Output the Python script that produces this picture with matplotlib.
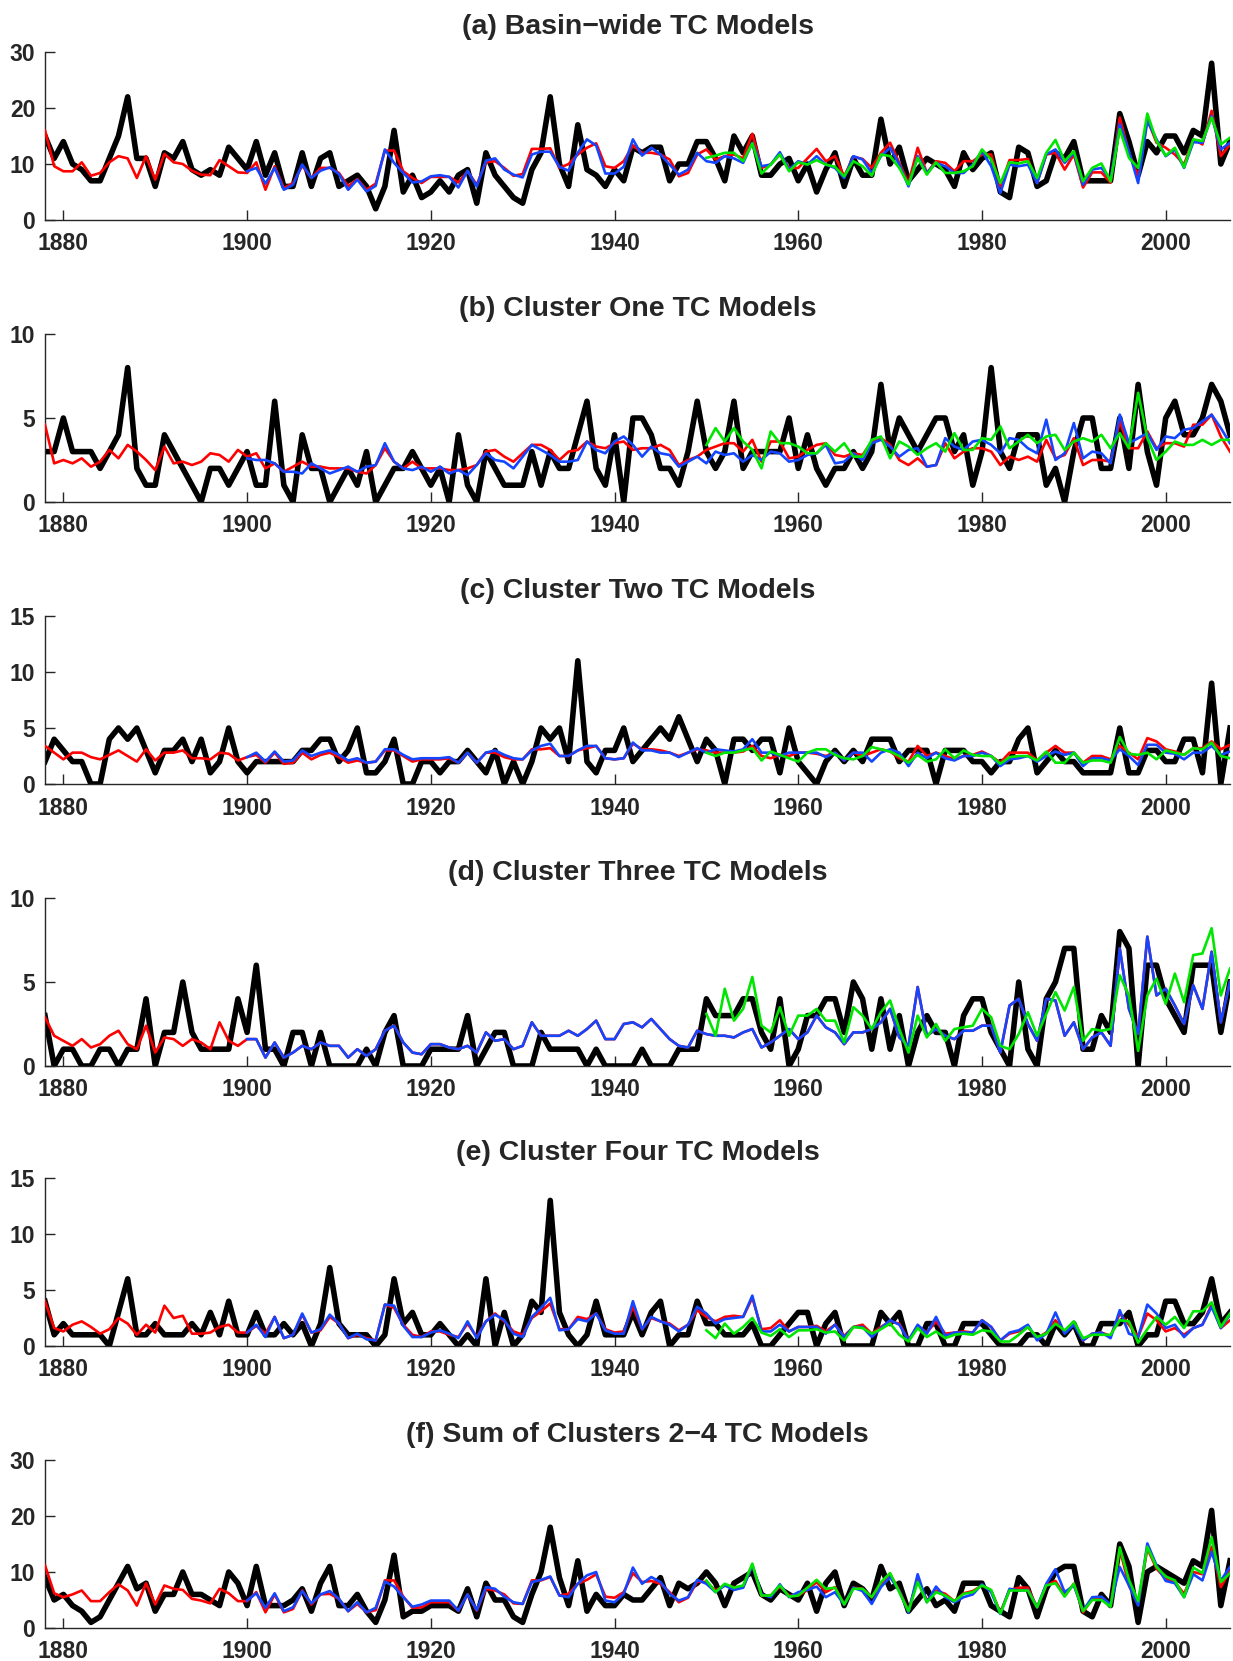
import numpy as np
import matplotlib
matplotlib.use("Agg")
import matplotlib.pyplot as plt

plt.rcParams['font.family'] = ['Liberation Sans', 'DejaVu Sans']
plt.rcParams['font.weight'] = 'bold'

years = np.arange(1878, 2008)
years_blue = np.arange(1900, 2008)
years_green = np.arange(1950, 2008)

# (a) basin-wide
a_obs = [15, 11, 14, 10, 9, 7, 7, 11, 15, 22,
         11, 11, 6, 12, 11, 14, 9, 8, 9, 8,
         13, 11, 9, 14, 8, 12, 6, 6, 12, 6,
         11, 12, 6, 7, 8, 6, 2, 6, 16, 5,
         8, 4, 5, 7, 5, 8, 9, 3, 12, 8,
         6, 4, 3, 9, 12, 22, 10, 6, 17, 9,
         8, 6, 9, 7, 13, 12, 13, 13, 7, 10,
         10, 14, 14, 11, 7, 15, 12, 15, 8, 8,
         10, 11, 7, 10, 5, 9, 12, 6, 11, 8,
         8, 18, 10, 13, 7, 9, 11, 10, 9, 6,
         12, 9, 11, 12, 5, 4, 13, 12, 6, 7,
         12, 11, 14, 7, 7, 7, 7, 19, 14, 8,
         14, 12, 15, 15, 12, 16, 15, 28, 10, 14]
a_red = [16, 9.6, 8.7, 8.7, 10.3, 7.9, 8.4, 10.3, 11.4, 11,
         7.5, 11.4, 7.2, 11.8, 10.3, 10, 8.8, 8.1, 8, 10.7,
         9.6, 8.5, 8.4, 10.3, 5.4, 9.6, 5.7, 6.6, 9.7, 7.5,
         9.3, 9.3, 8.4, 6, 7.3, 5.4, 6.5, 12.4, 12.4, 8.7,
         7.5, 6.6, 7.7, 7.7, 7.7, 6.7, 8.7, 6.3, 10.3, 10.5,
         9.3, 7.9, 8.2, 12.7, 12.7, 12.8, 9.3, 10, 11.7, 12.9,
         13.7, 9.6, 9.3, 10.5, 13.3, 12, 12, 11.7, 10.8, 7.8,
         8.4, 11.7, 12.6, 10.8, 11.4, 11.7, 11, 15.4, 9.3, 9.9,
         11.7, 9.3, 9.3, 11, 12.7, 10.5, 11.4, 7.8, 11.3, 10.9,
         9.3, 12, 13.8, 10.2, 6.6, 12.9, 8.4, 10.5, 10.2, 8.7,
         10.5, 10.5, 11.7, 11.7, 6, 10.7, 10.7, 10.9, 6.6, 11.7,
         12, 9, 11.7, 5.8, 8.5, 8.5, 6.7, 18.3, 12, 7.8,
         18, 13.8, 12.9, 11.7, 9.9, 14.4, 13.5, 19.5, 11.4, 13.5]
a_blue = [8.7, 9.3, 6.5, 9.3, 5.4, 6.3, 9.9, 7.5, 8.8, 9.4,
          8.2, 5.4, 7.2, 5.1, 6.1, 12.6, 10.2, 8.4, 6.7, 6.9,
          7.8, 8, 7.7, 5.8, 8.8, 6, 10.6, 11, 9, 8.1,
          7.6, 11.7, 12.2, 12.2, 9.5, 8.8, 12, 14.4, 13.3, 8.3,
          8.3, 9.5, 14.4, 11.5, 12.9, 11.7, 9.9, 8.1, 9, 12,
          10.5, 10.2, 11.4, 11, 10.2, 13.8, 9.6, 9.9, 12.1, 9,
          10.5, 9.9, 11.4, 9.9, 9.3, 7.5, 11.4, 10.8, 8.4, 11.4,
          12.9, 9.9, 6, 11.4, 8.4, 10.2, 9.6, 8.4, 8.4, 9.9,
          12.3, 9.6, 4.8, 9.9, 9.6, 9.9, 6.6, 11.7, 12.6, 10.2,
          12, 6.3, 9, 9.3, 7.2, 17.1, 12.3, 6.6, 17.7, 14.4,
          11.4, 12.6, 9.3, 13.9, 13.8, 18.6, 12.6, 13.8]
a_green = [11.1, 11.5, 12, 12, 10.5, 13.7, 8.3, 9.9, 11.7, 8.7,
           10.3, 9.9, 10.7, 9.9, 9.5, 7.8, 10.5, 9.6, 7.9, 11.7,
           11.4, 9.3, 6.3, 11.1, 8.1, 10.3, 8.4, 8.4, 8.7, 9.6,
           12.6, 10.8, 6.6, 10.3, 10.1, 10.5, 7.5, 12, 14.3, 10.5,
           12.3, 6.9, 9.3, 10.1, 6.9, 16.2, 11.1, 9.3, 19, 14.1,
           11.5, 12.9, 9.4, 14.4, 14.1, 18.3, 13.5, 14.7]

# (b) cluster one
b_obs = [3, 3, 5, 3, 3, 3, 2, 3, 4, 8,
         2, 1, 1, 4, 3, 2, 1, 0, 2, 2,
         1, 2, 3, 1, 1, 6, 1, 0, 4, 2,
         2, 0, 1, 2, 1, 3, 0, 1, 2, 2,
         3, 2, 1, 2, 0, 4, 1, 0, 3, 2,
         1, 1, 1, 3, 1, 3, 2, 2, 4, 6,
         2, 1, 4, 0, 5, 5, 4, 2, 2, 1,
         3, 6, 3, 2, 3, 6, 2, 3, 3, 3,
         3, 5, 2, 4, 2, 1, 2, 2, 3, 2,
         3, 7, 3, 5, 4, 3, 4, 5, 5, 3,
         4, 1, 3, 8, 3, 2, 4, 4, 4, 1,
         2, 0, 3, 5, 5, 2, 2, 5, 2, 7,
         3, 1, 5, 6, 4, 4, 5, 7, 6, 4]
b_red = [4.6, 2.3, 2.5, 2.3, 2.6, 2.1, 2.4, 3.1, 2.6, 3.4,
         3, 2.5, 1.9, 3.3, 2.3, 2.4, 2.2, 2.4, 2.9, 2.8,
         2.4, 3.1, 2.7, 2.9, 2, 2.3, 1.8, 2.1, 2.4, 2.1,
         2.1, 2, 2, 2, 1.8, 1.7, 2.2, 3.2, 2.4, 2,
         2.4, 2, 2, 2, 1.9, 1.9, 2, 2.2, 3, 3.1,
         2.7, 2.4, 2.9, 3.4, 3.4, 3.1, 2.5, 3, 3.1, 3.6,
         3.3, 3.2, 3.5, 3.6, 3.1, 3.2, 3.2, 3.4, 3.1, 2.2,
         2.5, 2.7, 3.1, 3.3, 3.5, 3.5, 3, 3.7, 2.4, 3.6,
         3.6, 2.6, 2.7, 3.1, 3.4, 3.5, 2.8, 2.7, 2.9, 2.8,
         3.6, 3.8, 3.4, 2.5, 2.2, 2.6, 2.1, 2.2, 3.5, 2.6,
         3, 3.2, 3.2, 3, 2.2, 2.7, 2.5, 2.7, 2.4, 3.7,
         2.6, 2.8, 3.8, 2.2, 2.5, 2.5, 2.4, 4.8, 3.2, 3.2,
         4.2, 3.2, 3.5, 3.5, 3.3, 4.6, 4.6, 5.2, 3.9, 3]
b_blue = [2.6, 2.5, 2.5, 2.3, 1.8, 1.8, 1.7, 2.3, 2, 1.7,
          1.9, 2.1, 1.8, 2.1, 2.2, 3.5, 2.4, 2, 1.9, 2.1,
          1.8, 2.1, 1.7, 1.9, 1.6, 2.2, 2.9, 2.5, 2.4, 2,
          2.7, 3.4, 3.1, 2.8, 2.4, 2.4, 2.5, 3.6, 3.1, 2.9,
          3.6, 3.9, 3.4, 2.7, 3.3, 2.9, 2.8, 2.1, 2.4, 2.7,
          2.3, 3, 2.8, 2.9, 2.4, 2.8, 2.5, 3, 2.9, 2.4,
          2.5, 2.8, 2.9, 3.4, 2.3, 2.4, 2.9, 2.5, 3.5, 3.7,
          3.3, 2.7, 3.1, 3.2, 2.1, 2.2, 3.8, 3.3, 3.1, 3.6,
          3.7, 3.4, 2.9, 3.8, 3.7, 3.2, 2.9, 4.9, 2.5, 2.9,
          4.7, 2.6, 3, 2.9, 2.3, 5.2, 3.5, 3.8, 4.1, 3.1,
          3.9, 3.8, 4.3, 4.4, 4.8, 5.2, 4.4, 3.5]
b_green = [3.4, 4.4, 3.6, 4.4, 3.6, 3.1, 2, 4.2, 3.5, 3.5,
           3.3, 2.9, 2.9, 3.5, 3, 3.5, 2.7, 2.7, 3.7, 3.9,
           2.6, 3.6, 3.3, 2.8, 3.2, 3.5, 3, 4.1, 3.1, 3.1,
           3.8, 3.7, 4.5, 3.2, 3.6, 4, 3.5, 3.9, 4, 3.1,
           3.6, 3.8, 3.6, 4, 3.2, 4.1, 3.2, 6.5, 3.8, 2.5,
           3, 3.6, 3.4, 3.4, 3.7, 3.4, 3.7, 3.7]

# (c) cluster two
c_obs = [2, 4, 3, 2, 2, 0, 0, 4, 5, 4,
         5, 3, 1, 3, 3, 4, 2, 4, 1, 2,
         5, 2, 1, 2, 2, 2, 2, 2, 3, 3,
         4, 4, 2, 3, 5, 1, 1, 2, 4, 0,
         0, 2, 2, 1, 2, 2, 3, 2, 1, 3,
         0, 2, 0, 2, 5, 4, 5, 2, 11, 2,
         1, 3, 3, 5, 2, 3, 4, 5, 4, 6,
         4, 2, 4, 3, 0, 4, 4, 3, 4, 4,
         1, 5, 2, 1, 0, 2, 3, 2, 3, 2,
         4, 4, 4, 2, 3, 3, 3, 0, 3, 3,
         3, 2, 2, 1, 2, 2, 4, 5, 1, 2,
         3, 2, 2, 1, 1, 1, 1, 5, 1, 1,
         3, 3, 2, 2, 4, 4, 1, 9, 0, 5]
c_red = [3.4, 2.8, 2.2, 2.8, 2.8, 2.4, 2.2, 2.6, 3, 2.5,
         2, 3.1, 2.1, 2.8, 2.8, 3, 2.3, 2.3, 2.2, 2.8,
         2.7, 2.1, 2.4, 2.6, 1.9, 2.8, 1.8, 1.9, 2.8, 2.2,
         2.6, 2.8, 2.4, 1.9, 2.1, 1.9, 2, 3, 3, 2.5,
         2, 2.2, 2.2, 2.2, 2.3, 1.9, 2.8, 1.9, 2.8, 2.8,
         2.4, 2.2, 2.2, 3.1, 3.1, 3.2, 2.5, 2.5, 3, 3.2,
         3.4, 2.3, 2.2, 2.3, 3.6, 3.1, 3.1, 3, 2.8, 2.5,
         2.8, 3.1, 3, 2.8, 2.8, 2.8, 2.9, 3.4, 2.5, 2.3,
         2.6, 2.5, 2.8, 2.8, 2.7, 2.5, 2.8, 2.1, 2.8, 2.5,
         2.8, 3.1, 2.9, 2.3, 2, 3.4, 2.5, 2.8, 2.5, 2.2,
         2.5, 2.6, 2.9, 2.5, 1.9, 2.8, 2.8, 2.8, 2.1, 2.8,
         3.4, 2.8, 2.8, 1.9, 2.5, 2.5, 2.2, 3.4, 2.8, 2.2,
         4.1, 3.8, 3.1, 2.9, 2.6, 3.2, 3.2, 3.8, 3.1, 3.5]
c_blue = [2.4, 2.8, 2, 2.9, 2, 2.1, 3, 2.5, 2.8, 3,
          2.6, 2.1, 2.3, 1.9, 2, 3.1, 3.1, 2.6, 2.2, 2.3,
          2.3, 2.3, 2.4, 1.9, 2.8, 1.9, 2.8, 3, 2.6, 2.3,
          2.2, 3, 3.4, 3.6, 2.5, 2.5, 3, 3.4, 3.4, 2.3,
          2.2, 2.3, 3.7, 3, 3, 2.8, 2.8, 2.4, 2.8, 3.2,
          2.8, 3.1, 3, 2.9, 3.1, 4, 2.8, 2.8, 2.5, 2.8,
          2.8, 2.8, 2.8, 2.4, 2.8, 2.1, 2.8, 2.8, 2, 2.8,
          3.1, 2.8, 1.6, 2.8, 2.3, 2.8, 2.3, 2.1, 2.5, 2.5,
          2.8, 2.5, 1.6, 2.2, 2.3, 2.5, 2, 2.5, 2.9, 2.6,
          2.8, 1.6, 2.3, 2.3, 2.1, 3.1, 2.5, 1.7, 3.5, 3.5,
          2.8, 2.7, 2.2, 2.8, 2.8, 3.4, 2.6, 2.9]
c_green = [2.8, 2.5, 2.8, 2.8, 3, 3.2, 2.1, 2.9, 2.6, 2.3,
           2, 2.8, 3.1, 3.1, 2.6, 2.3, 2.2, 2.5, 3.3, 3.1,
           2.9, 2.5, 1.9, 2.6, 2, 2.2, 3.1, 2.3, 3, 2.6,
           2.5, 2.5, 1.8, 2.4, 2.5, 2.5, 2.1, 2.9, 1.9, 1.9,
           2.8, 1.9, 2.1, 2.1, 1.9, 4.2, 2.7, 2.6, 2.8, 2.2,
           3, 2.8, 2.6, 3.2, 3.1, 3.7, 2.5, 2.3]

# (d) cluster three
d_obs = [3, 0, 1, 1, 0, 0, 1, 1, 0, 1,
         1, 4, 0, 2, 2, 5, 2, 1, 1, 1,
         1, 4, 2, 6, 1, 1, 0, 2, 2, 0,
         2, 0, 0, 0, 0, 1, 0, 2, 3, 0,
         0, 0, 1, 1, 1, 1, 3, 0, 1, 2,
         2, 0, 0, 0, 2, 1, 1, 1, 1, 0,
         1, 0, 0, 0, 0, 1, 0, 0, 0, 1,
         1, 1, 4, 3, 3, 3, 4, 4, 2, 1,
         4, 0, 1, 3, 3, 4, 4, 2, 5, 4,
         1, 4, 1, 3, 0, 2, 3, 2, 2, 0,
         3, 4, 4, 2, 1, 0, 5, 1, 0, 4,
         5, 7, 7, 1, 1, 3, 2, 8, 7, 0,
         6, 6, 4, 3, 2, 6, 6, 6, 2, 5]
d_red = [2.9, 1.8, 1.5, 1.2, 1.6, 1.1, 1.3, 1.8, 2.1, 1.3,
         1, 2.4, 0.8, 1.7, 1.6, 1.2, 1.6, 1.4, 1, 2.6,
         1.5, 1.2, 1.6, 1.6, 0.5, 1.4, 0.5, 0.8, 1.2, 1,
         1.4, 1.2, 1.2, 0.5, 1, 0.6, 1, 2.1, 2.4, 1.4,
         0.8, 0.7, 1.3, 1.3, 1.1, 1, 1.2, 0.8, 2, 1.5,
         1.6, 1, 1.2, 2.6, 1.8, 1.8, 1.8, 2.1, 1.8, 2.2,
         2.7, 1.6, 1.6, 2.5, 2.6, 2.3, 2.8, 2.2, 1.6, 1.2,
         1.1, 2.1, 1.9, 1.8, 1.8, 1.7, 2, 2.2, 1.1, 1.4,
         1.8, 2.2, 1.6, 2, 3, 2.3, 2, 1.3, 2, 2,
         2.2, 2.6, 3.4, 1.7, 1.2, 4.7, 1.8, 2.2, 1.8, 1.6,
         2.1, 2.1, 2.4, 2.4, 0.8, 3.6, 4, 2.5, 1.5, 4,
         3.9, 1.8, 2.6, 1, 1.7, 2, 1.2, 7, 3.4, 1.9,
         7.7, 4.2, 4.6, 3.6, 2.5, 4.8, 3.4, 6.8, 2.6, 5]
d_blue = [1.6, 1.6, 0.5, 1.4, 0.5, 0.8, 1.2, 1, 1.4, 1.2,
          1.2, 0.5, 1, 0.6, 1, 2.1, 2.4, 1.4, 0.8, 0.7,
          1.3, 1.3, 1.1, 1, 1.2, 0.8, 2, 1.5, 1.6, 1,
          1.2, 2.6, 1.8, 1.8, 1.8, 2.1, 1.8, 2.2, 2.7, 1.6,
          1.6, 2.5, 2.6, 2.3, 2.8, 2.2, 1.6, 1.2, 1.1, 2.1,
          1.9, 1.8, 1.8, 1.7, 2, 2.2, 1.1, 1.4, 1.8, 2.2,
          1.6, 2, 3, 2.3, 2, 1.3, 2, 2, 2.2, 2.6,
          3.4, 1.7, 1.2, 4.7, 1.8, 2.2, 1.8, 1.6, 2.1, 2.1,
          2.4, 2.4, 0.8, 3.6, 4, 2.5, 1.5, 4, 3.9, 1.8,
          2.6, 1, 1.7, 2, 1.2, 7, 3.4, 1.9, 7.7, 4.2,
          4.6, 3.6, 2.5, 4.8, 3.4, 6.8, 2.6, 5]
d_green = [3.1, 1.8, 4.6, 2.7, 3.4, 5.3, 2.4, 2, 3.5, 1.8,
           3, 3, 3.4, 2.7, 2.7, 1.4, 3.5, 3, 2.2, 3.2,
           3.9, 2.2, 0.8, 3, 1.7, 2.5, 1.5, 2.2, 2.3, 2.4,
           3.4, 2.9, 1.2, 1, 1.9, 3.2, 1.8, 3.1, 4.4, 3.3,
           4.7, 1.5, 2.2, 2.1, 2.2, 5.4, 4.2, 0.9, 4.2, 5.2,
           3.7, 5.5, 3.8, 6.6, 6.7, 8.2, 4.2, 5.8]

# (e) cluster four
e_obs = [4, 1, 2, 1, 1, 1, 1, 0, 3, 6,
         1, 1, 2, 1, 1, 1, 2, 1, 3, 1,
         4, 1, 1, 3, 1, 1, 2, 1, 2, 0,
         2, 7, 2, 1, 1, 1, 0, 1, 6, 2,
         3, 1, 1, 2, 1, 0, 1, 0, 6, 0,
         3, 0, 1, 4, 3, 13, 3, 1, 0, 1,
         4, 1, 1, 1, 3, 1, 3, 4, 0, 1,
         1, 4, 2, 2, 1, 1, 1, 2, 0, 0,
         1, 2, 3, 3, 0, 2, 3, 0, 0, 0,
         0, 3, 2, 3, 0, 0, 2, 2, 0, 0,
         2, 2, 2, 1, 0, 0, 0, 1, 1, 0,
         2, 1, 2, 0, 0, 2, 2, 2, 3, 0,
         1, 1, 4, 4, 2, 2, 3, 6, 2, 3]
e_red = [4, 1.6, 1.3, 1.9, 2.2, 1.7, 1.1, 1.5, 2.5, 2,
         1, 1.9, 1.2, 3.6, 2.5, 2.7, 1.1, 1.1, 1.2, 1.7,
         1.9, 1.2, 1.2, 1.8, 1.1, 2.6, 0.7, 1, 2.8, 1.2,
         1.4, 2.6, 2, 0.7, 1, 0.7, 0.5, 3.7, 3.4, 1.9,
         1, 0.8, 1.3, 1.3, 1, 0.8, 2, 0.8, 2.2, 2.9,
         2.2, 1.3, 1, 2.5, 3.1, 3.8, 1.5, 1.5, 2.6, 2.4,
         2.9, 1.5, 1.2, 1.3, 3.5, 1.5, 2.5, 2.2, 2, 1.4,
         1.9, 3.2, 2.6, 2.2, 2.6, 2.7, 2.6, 4.3, 1.5, 1.6,
         2.3, 1.3, 1.7, 1.7, 1.8, 1.3, 1.9, 0.9, 1.7, 1.9,
         1.1, 1.7, 2.2, 2, 0.5, 1.8, 1.2, 2.2, 1.1, 1.2,
         1.3, 1.2, 2.3, 1.7, 0.5, 1.1, 1.3, 1.7, 0.7, 1.2,
         2.3, 1.2, 2, 0.5, 1.1, 1.2, 0.9, 2.9, 1.9, 0.8,
         2.9, 2.3, 1.3, 1.6, 1, 1.6, 1.9, 3.7, 1.6, 2.3]
e_blue = [1.2, 1.9, 0.8, 2.6, 0.7, 1, 2.9, 1.2, 1.5, 2.8,
          2, 0.7, 1.1, 0.6, 0.5, 3.7, 3.6, 1.8, 0.8, 0.8,
          1.2, 1.4, 1.1, 0.7, 2.2, 0.7, 2.2, 2.8, 2.3, 1.1,
          0.8, 2.6, 3.4, 4.3, 1.4, 1.5, 2.4, 2.2, 2.9, 1.4,
          1.1, 1.1, 4, 1.5, 2.6, 2.2, 1.9, 1.3, 1.9, 3.5,
          2.9, 2, 2.4, 2.5, 2.6, 4.5, 1.3, 1.3, 1.9, 1.3,
          1.7, 1.7, 1.7, 1.1, 1.9, 0.8, 1.7, 1.7, 0.8, 1.6,
          2.3, 1.9, 0.5, 1.9, 1.1, 2.6, 0.9, 1.2, 1.2, 1.2,
          2.3, 1.7, 0.5, 1.2, 1.4, 1.9, 0.5, 1.1, 3, 1.1,
          1.9, 0.5, 1.1, 1.2, 0.7, 3.2, 1.1, 0.8, 3.7, 2.9,
          1.6, 1.9, 0.8, 1.6, 1.9, 3.5, 1.6, 2.8]
e_green = [1.4, 0.7, 2, 1.1, 1.7, 2.5, 1.2, 0.9, 1.5, 0.8,
           1.4, 1.4, 1.5, 1.2, 1.3, 0.5, 1.7, 1.6, 1.1, 1.5,
           2, 1, 0.4, 1.6, 0.8, 1.3, 0.7, 1, 1.1, 1,
           1.4, 1.3, 0.4, 0.4, 1, 1.7, 0.8, 1.1, 2, 1.4,
           2.2, 0.7, 1, 1, 1, 2.3, 2.2, 0.3, 1.5, 2.6,
           1.9, 2.6, 1.6, 3.1, 3.1, 3.9, 1.7, 2.9]

# (f) sum of clusters 2-4
f_obs = [9, 5, 6, 4, 3, 1, 2, 5, 8, 11,
         7, 8, 3, 6, 6, 10, 6, 6, 5, 4,
         10, 8, 4, 11, 4, 4, 4, 5, 7, 3,
         8, 11, 4, 4, 6, 3, 1, 5, 13, 2,
         3, 3, 4, 4, 4, 3, 7, 2, 8, 5,
         5, 2, 1, 6, 10, 18, 9, 4, 12, 3,
         6, 4, 4, 6, 5, 5, 7, 9, 4, 8,
         7, 8, 10, 8, 4, 8, 9, 10, 6, 5,
         7, 6, 5, 8, 3, 8, 10, 4, 8, 7,
         5, 11, 7, 8, 3, 5, 7, 4, 5, 3,
         8, 8, 8, 4, 3, 2, 9, 7, 2, 7,
         10, 11, 11, 3, 2, 6, 4, 15, 11, 1,
         10, 11, 10, 9, 8, 12, 11, 21, 4, 12]
f_red = [11.2, 6.2, 5.5, 6, 6.7, 4.8, 4.8, 6.4, 7.8, 6.7,
         4, 8, 4.2, 7.6, 7, 6.8, 5.2, 4.9, 4.4, 7,
         6.2, 4.8, 4.8, 6.4, 2.8, 6, 2.8, 3.4, 6.7, 4.2,
         6, 6.1, 5.2, 3, 4.3, 2.8, 3.2, 8.5, 8.5, 5.6,
         3.6, 3.7, 4.6, 4.6, 4.6, 3.1, 6, 3.1, 7, 6.7,
         6, 4.4, 4.3, 8.5, 8.5, 9.1, 5.8, 6.1, 7.9, 8.6,
         9.6, 5.6, 5.4, 6.4, 9.8, 8.2, 8.4, 7.9, 6.4, 4.6,
         5.4, 8.3, 8.2, 6.7, 7.6, 7.3, 7.3, 11.2, 5.8, 5.8,
         7.4, 5.8, 5.8, 6.8, 8.2, 6.4, 7.3, 4.2, 7.2, 7,
         5.5, 7.9, 9.6, 6.7, 3.1, 8.8, 4.9, 6.7, 6.1, 4.8,
         6.2, 6.6, 7.6, 6.7, 2.8, 6.8, 7.2, 7.2, 3.7, 7.6,
         8.4, 5.8, 7.9, 2.8, 5.2, 5.5, 4, 14.1, 7.6, 4.2,
         14.2, 10.6, 8.8, 8.2, 6.1, 10, 9.6, 14.5, 7.3, 10.3]
f_blue = [4.9, 6.2, 3.6, 6.2, 3, 3.7, 6.6, 4.4, 6, 6.6,
          5.2, 3, 4.6, 2.8, 3.6, 8.3, 7.4, 5.5, 3.8, 4.2,
          4.9, 4.9, 4.9, 3.1, 6, 3.2, 7.3, 7, 5.6, 4.6,
          4.3, 8.2, 8.6, 9.2, 5.8, 5.5, 7.9, 9.4, 10, 4.9,
          4.6, 6.1, 10.8, 7.9, 9.1, 8.2, 6.1, 4.9, 5.5, 8.6,
          7.9, 6.4, 7.6, 6.8, 7.2, 11.2, 6, 5.5, 7.8, 5.5,
          6.4, 6.8, 7.4, 5.5, 6.4, 4.2, 7.2, 6.6, 4.3, 7.3,
          9.1, 6.6, 2.8, 9.6, 4.6, 7.4, 5.5, 4.6, 5.5, 6,
          7.8, 6.4, 2.5, 7, 6.7, 6.8, 3.7, 7.9, 10.5, 6.4,
          7.6, 3.1, 5.5, 5.6, 4.2, 10.9, 7.6, 4, 15.1, 11.2,
          8.4, 8, 5.5, 9.6, 8.5, 13.6, 8.5, 10.9]
f_green = [8.5, 6.4, 7.9, 7.2, 7.6, 11.5, 5.8, 5.8, 7.6, 5.6,
           5.8, 7.2, 8.6, 7, 7.2, 4.2, 7, 7, 5.5, 8.2,
           9.8, 6.4, 3, 8.2, 4.6, 6.4, 5.8, 4.8, 6.1, 6.4,
           7.6, 6.8, 2.6, 6.7, 6.7, 6.7, 3.7, 7.6, 8, 5.6,
           7.9, 3, 5, 5, 3.8, 14.4, 8.6, 4.8, 14.5, 10.9,
           9.2, 8.5, 5.5, 10.8, 9.8, 16.2, 8.2, 9.8]

titles = ['(a) Basin\u2212wide TC Models', '(b) Cluster One TC Models',
          '(c) Cluster Two TC Models', '(d) Cluster Three TC Models',
          '(e) Cluster Four TC Models', '(f) Sum of Clusters 2\u22124 TC Models']
obs = [a_obs, b_obs, c_obs, d_obs, e_obs, f_obs]
red = [a_red, b_red, c_red, d_red, e_red, f_red]
blue = [a_blue, b_blue, c_blue, d_blue, e_blue, f_blue]
green = [a_green, b_green, c_green, d_green, e_green, f_green]
ymax = [30, 10, 15, 10, 15, 30]
ystep = [10, 5, 5, 5, 5, 10]

fig = plt.figure(figsize=(12.33, 16.61), dpi=100)

# axes bottoms in pixels from top of image
bottoms_px = [220, 502, 784, 1066, 1346, 1628]
for i in range(6):
    ax = fig.add_axes([45 / 1233, 1 - bottoms_px[i] / 1661, 1185 / 1233, 168 / 1661])
    ax.plot(years, obs[i], color='black', lw=4.0, zorder=2)
    ax.plot(years, red[i], color='#ff0000', lw=1.9, zorder=3)
    ax.plot(years_blue, blue[i], color='#1446ff', lw=1.9, zorder=4)
    ax.plot(years_green, green[i], color='#00e600', lw=1.9, zorder=5)

    ax.set_xlim(1878, 2007)
    ax.set_ylim(0, ymax[i])
    ax.set_xticks(np.arange(1880, 2001, 20))
    ax.set_yticks(np.arange(0, ymax[i] + 1, ystep[i]))
    ax.spines['top'].set_visible(False)
    ax.spines['right'].set_visible(False)
    for s in ['left', 'bottom']:
        ax.spines[s].set_color('#262626')
        ax.spines[s].set_linewidth(1.0)
    ax.tick_params(direction='in', length=7, width=1, color='#262626',
                   labelsize=16.5, labelcolor='#262626')
    ax.tick_params(axis='x', pad=9)
    ax.tick_params(axis='y', pad=7)
    for lab in ax.get_xticklabels() + ax.get_yticklabels():
        lab.set_fontweight('bold')
    ax.set_title(titles[i], fontsize=20.5, fontweight='bold', color='#262626', pad=13)

fig.savefig('out.png', dpi=100)
